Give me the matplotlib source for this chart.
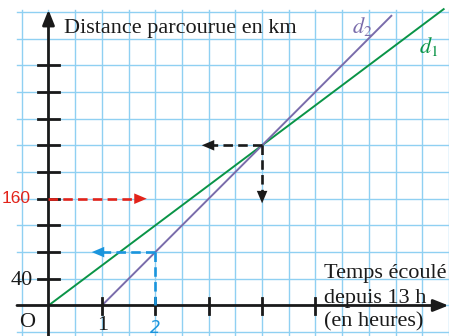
import matplotlib
matplotlib.use('Agg')
import matplotlib.pyplot as plt
import numpy as np

plt.rcParams['mathtext.fontset'] = 'stix'

# ---------------- data ----------------
hour_ticks = [1, 2, 3, 4, 5]
hour_labels = ['1', '2']
km_ticks = [40, 80, 120, 160, 200, 240, 280, 320, 360]
d1_hours = [0, 4, 7.4]
d1_km = [0, 240, 444]
d2_hours = [1, 4, 6.42]
d2_km = [0, 240, 434]
cross_point = (4, 240)
red_km = 160
red_arrow_end = 1.84
blue_point = (2, 80)
blue_arrow_end = 0.81
black_h_end = 2.87
black_v_end = 153

grid_x = np.arange(-0.5, 7.51, 0.5)
grid_y = np.arange(-40, 441, 40)

# ---------------- style ----------------
SERIF = 'Liberation Serif'
GRID = '#8fd0f2'
GREEN = '#0a9447'
PURPLE = '#7a6cab'
RED = '#e2231a'
BLUE = '#1a95dd'
BLACK = '#1a1a1a'

fig = plt.figure(figsize=(4.49, 3.36), dpi=100)
ax = fig.add_axes([0, 0, 1, 1])
ax.set_xlim(-0.908, 7.50)
ax.set_ylim(-45.7, 457.7)
ax.axis('off')

# grid
for gx in grid_x:
    ax.plot([gx, gx], [-46, 443], color=GRID, lw=1.0, zorder=1)
for gy in grid_y:
    ax.plot([-0.59, 7.6], [gy, gy], color=GRID, lw=1.0, zorder=1)

def arrow(xy_from, xy_to, color, lw, hl=8.5, hw=3.8, z=5):
    ax.annotate('', xy=xy_to, xytext=xy_from,
                arrowprops=dict(arrowstyle=f'-|>,head_length={hl},head_width={hw}',
                                mutation_scale=1, color=color, lw=lw,
                                shrinkA=0, shrinkB=0),
                zorder=z)

# axes
arrow((0, -46), (0, 443), BLACK, 2.0, hl=9, hw=3.6)
arrow((-0.59, 0), (7.49, 0), BLACK, 2.0, hl=9, hw=3.6)

# ticks
for k in km_ticks:
    ax.plot([-0.19, 0.19], [k, k], color=BLACK, lw=2.0, zorder=4)
for h in hour_ticks:
    ax.plot([h, h], [-13, 11], color=BLACK, lw=2.0, zorder=4)

# lines
ax.plot(d1_hours, d1_km, color=GREEN, lw=1.4, zorder=3)
ax.plot(d2_hours, d2_km, color=PURPLE, lw=1.4, zorder=3)

def dashed_arrow(start, end, color, horizontal):
    # dashed shaft up to the head base, then filled head
    if horizontal:
        base = (end[0] - np.sign(end[0] - start[0]) * 0.2, end[1])
    else:
        base = (end[0], end[1] - np.sign(end[1] - start[1]) * 16)
    ax.plot([start[0], base[0]], [start[1], base[1]], color=color, lw=1.9,
            dashes=(3.6, 2.0), zorder=6, solid_capstyle='butt', dash_capstyle='butt')
    arrow(start, end, color, 0, hl=9, hw=3.8, z=6)

# red
dashed_arrow((0, red_km), (red_arrow_end, red_km), RED, True)
# blue
dashed_arrow(blue_point, (blue_arrow_end, blue_point[1]), BLUE, True)
ax.plot([blue_point[0], blue_point[0]], [blue_point[1], 0], color=BLUE, lw=1.9,
        dashes=(3.6, 2.0), zorder=6, dash_capstyle='butt')
# black
dashed_arrow(cross_point, (black_h_end, cross_point[1]), BLACK, True)
dashed_arrow(cross_point, (cross_point[0], black_v_end), BLACK, False)

# texts
fs = 16
ax.text(0.29, 408, 'Distance parcourue en km', fontsize=fs, family=SERIF,
        color=BLACK, ha='left', va='baseline', zorder=7)
ax.text(5.15, 41, 'Temps écoulé', fontsize=fs, family=SERIF, color=BLACK,
        ha='left', va='baseline', zorder=7)
ax.text(5.15, 4, 'depuis 13 h', fontsize=fs, family=SERIF, color=BLACK,
        ha='left', va='baseline', zorder=7)
ax.text(5.15, -31, '(en heures)', fontsize=fs, family=SERIF, color=BLACK,
        ha='left', va='baseline', zorder=7)
ax.text(5.68, 408, r'$d_2$', fontsize=fs, color=PURPLE, ha='left',
        va='baseline', zorder=7)
ax.text(6.94, 378, r'$d_1$', fontsize=fs, color=GREEN, ha='left',
        va='baseline', zorder=7)
ax.text(-0.40, -32, 'O', fontsize=fs, family=SERIF, color=BLACK,
        ha='center', va='baseline', zorder=7)
ax.text(-0.29, 30, '40', fontsize=fs, family=SERIF, color=BLACK,
        ha='right', va='baseline', zorder=7)
ax.text(1.01, -15, hour_labels[0], fontsize=fs, family=SERIF, color=BLACK,
        ha='center', va='top', zorder=7)
ax.text(2.0, -20, hour_labels[1], fontsize=12, family=['DejaVu Sans'],
        style='italic', color=BLUE, ha='center', va='top', zorder=7)
ax.text(-0.33, 160, '160', fontsize=12.5, family=['Liberation Sans'],
        color=RED, ha='right', va='center', zorder=7)

fig.savefig('out.png', dpi=100)
